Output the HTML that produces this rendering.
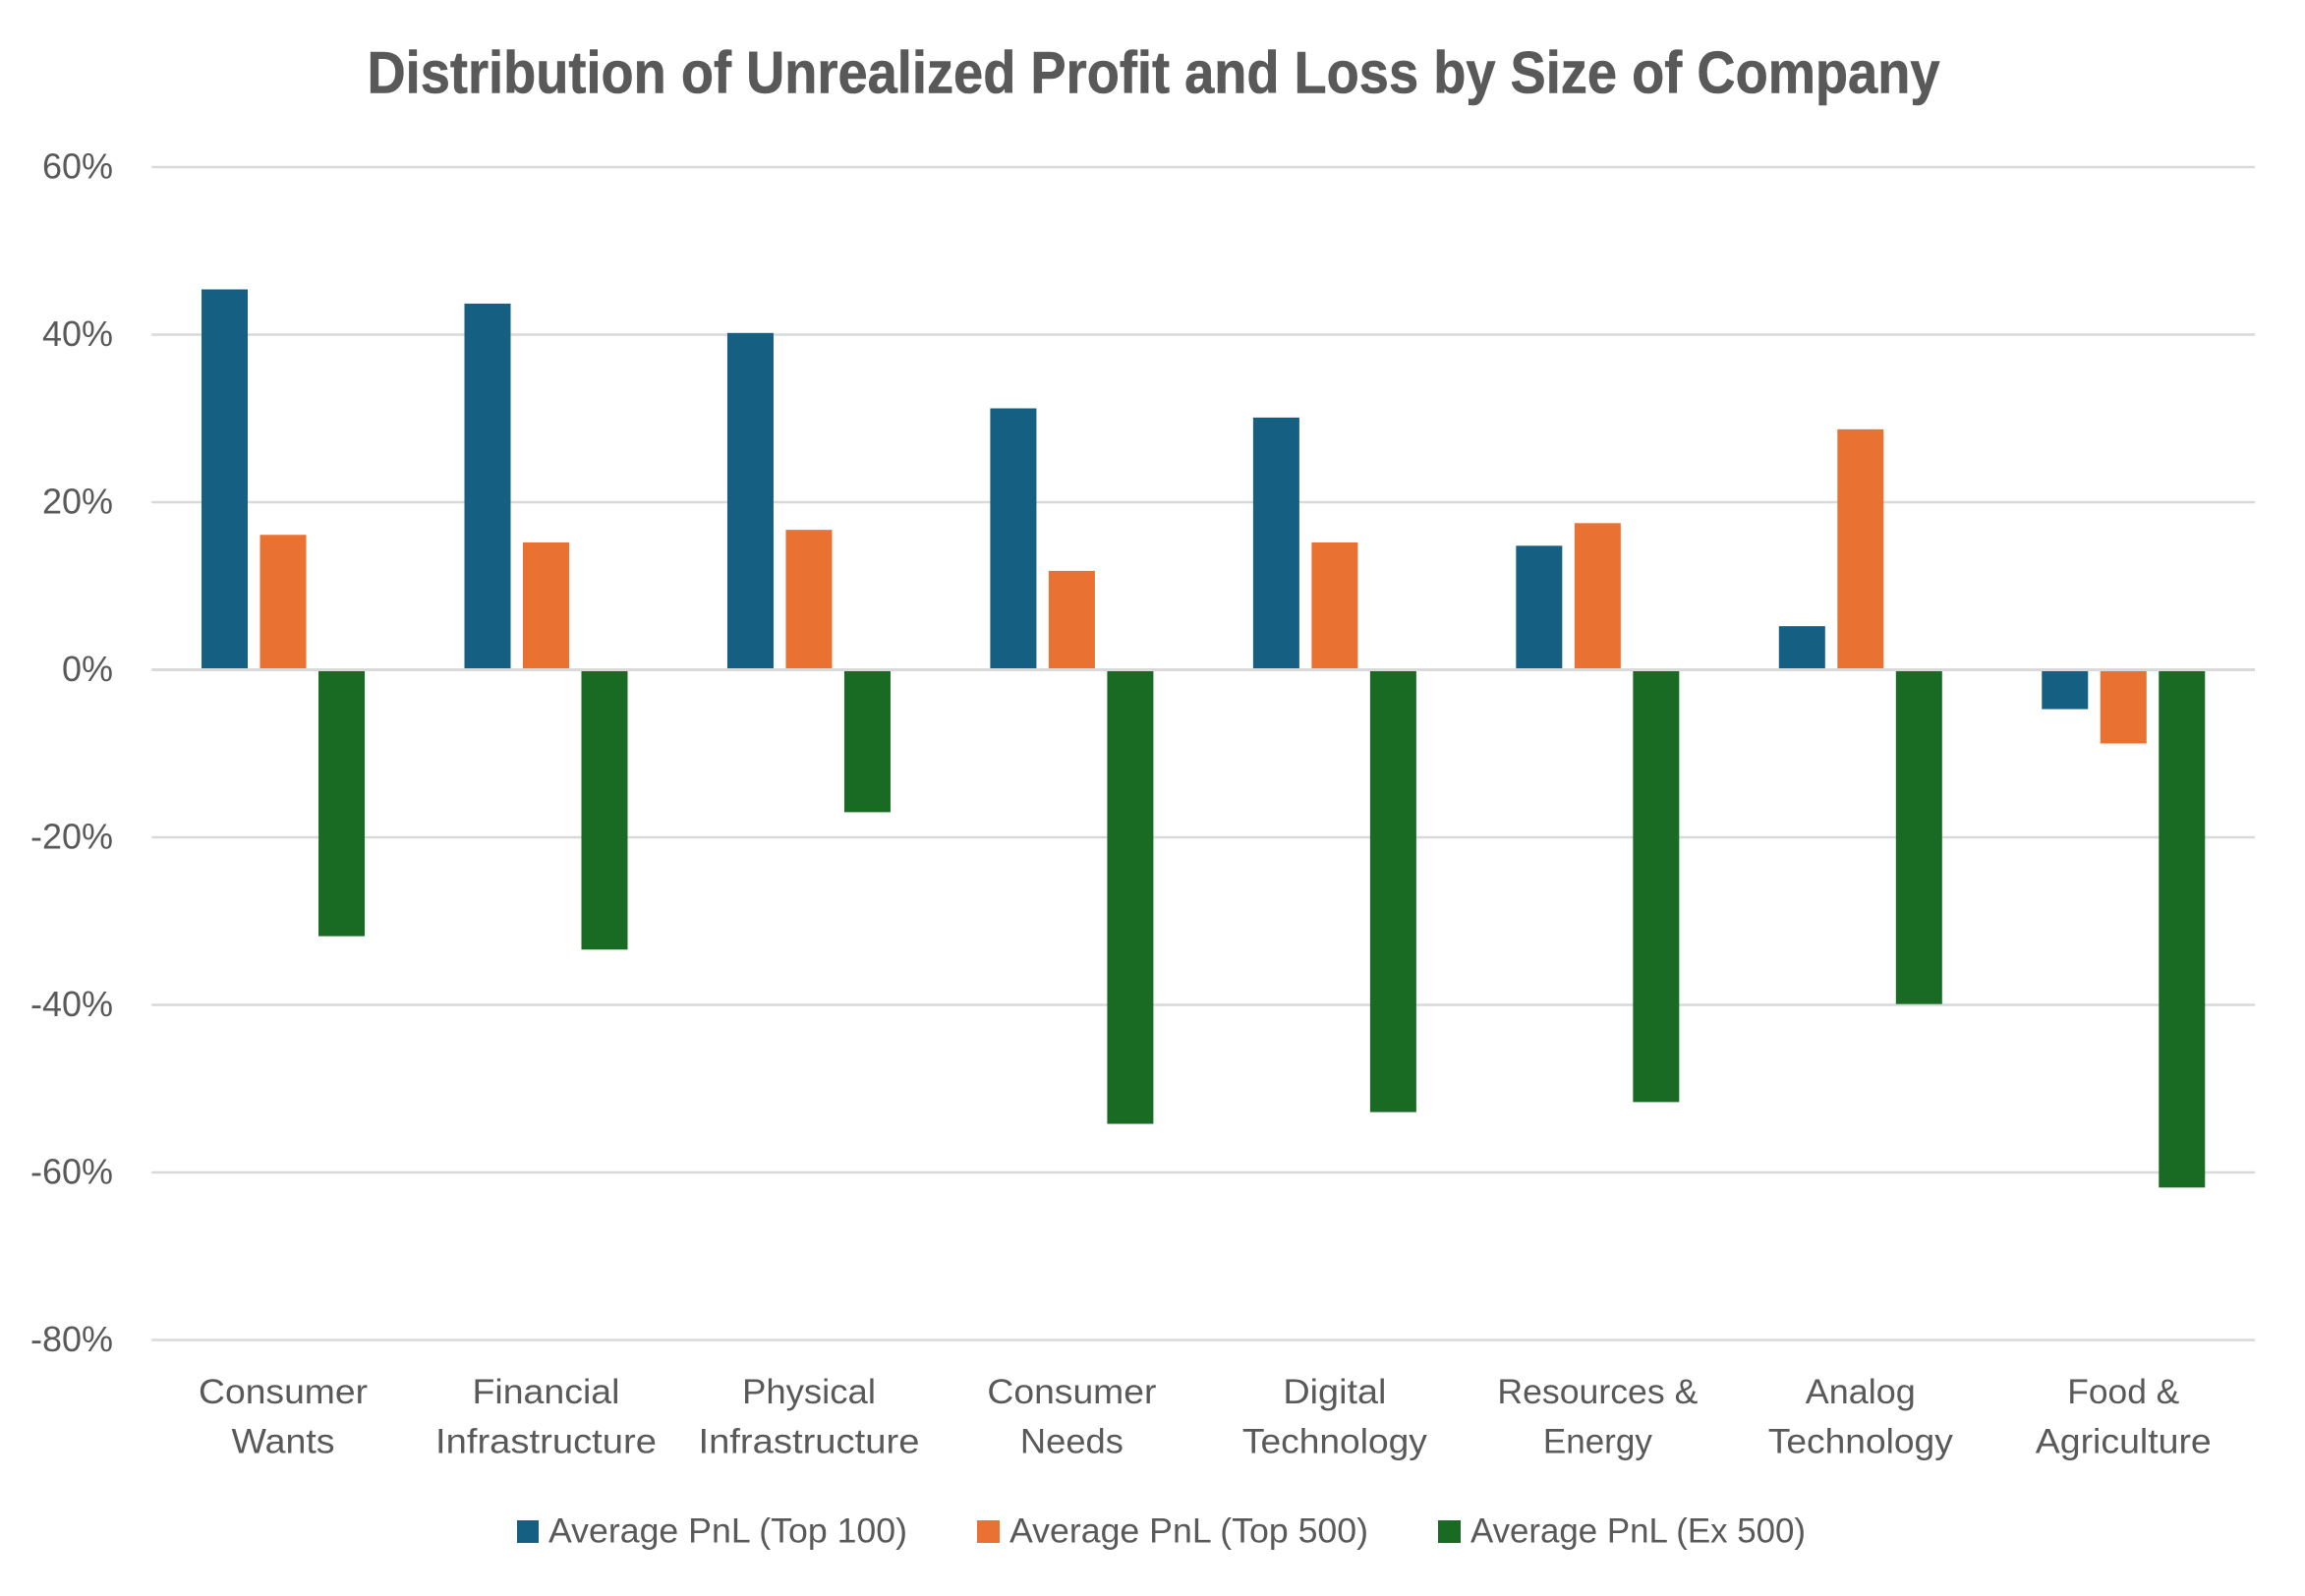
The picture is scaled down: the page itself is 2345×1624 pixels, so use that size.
<!DOCTYPE html>
<html lang="en">
<head>
<meta charset="utf-8">
<title>Distribution of Unrealized Profit and Loss by Size of Company</title>
<style>
  html, body { margin: 0; padding: 0; background: #fff; }
  svg { display: block; }
  text { font-family: "Liberation Sans", sans-serif; fill: #595959; }
</style>
</head>
<body>
<svg id="chart" xmlns="http://www.w3.org/2000/svg" width="2345" height="1624" viewBox="0 0 2345 1624">
  <rect x="0" y="0" width="2345" height="1624" fill="#ffffff"/>
  <text x="373.5" y="94.7" font-size="60" font-weight="700" stroke="#595959" stroke-width="0.6" textLength="1600" lengthAdjust="spacingAndGlyphs">Distribution of Unrealized Profit and Loss by Size of Company</text>
  <g id="gridlines"></g>
  <g id="y-axis-labels"></g>
  <g id="bars"></g>
  <g id="zero-axis"></g>
  <g id="x-axis-labels"></g>
  <g>
    <g>
      <rect x="526" y="1547" width="22" height="23" fill="#156082"/>
      <text x="558" y="1569.3" font-size="35" textLength="365" lengthAdjust="spacingAndGlyphs">Average PnL (Top 100)</text>
    </g>
    <g>
      <rect x="994" y="1547" width="23" height="23" fill="#E97132"/>
      <text x="1027" y="1569.3" font-size="35" textLength="365" lengthAdjust="spacingAndGlyphs">Average PnL (Top 500)</text>
    </g>
    <g>
      <rect x="1463" y="1547" width="23" height="23" fill="#196B24"/>
      <text x="1496" y="1569.3" font-size="35" textLength="341" lengthAdjust="spacingAndGlyphs">Average PnL (Ex 500)</text>
    </g>
  </g>
</svg>
<script>
const categories = [
  ["Consumer", "Wants"],
  ["Financial", "Infrastructure"],
  ["Physical", "Infrastructure"],
  ["Consumer", "Needs"],
  ["Digital", "Technology"],
  ["Resources &", "Energy"],
  ["Analog", "Technology"],
  ["Food &", "Agriculture"]
];
const avgPnlTop100 = [45.4, 43.7, 40.2, 31.2, 30.1, 14.8, 5.2, -4.7];
const avgPnlTop500 = [16.1, 15.2, 16.7, 11.8, 15.2, 17.5, 28.7, -8.8];
const avgPnlEx500 = [-31.8, -33.4, -17.0, -54.2, -52.8, -51.6, -39.9, -61.8];
const yTicks = [60, 40, 20, 0, -20, -40, -60, -80];

const SVG_NS = "http://www.w3.org/2000/svg";
const plotLeft = 154.3, plotRight = 2294;
const yZero = 681.5, pxPerPercent = 8.525;
const barWidth = 47, barStep = 59.5;
const bandWidth = (plotRight - plotLeft) / categories.length;

/* The reference font sets these words wider than Liberation Sans does. */
const wordFit = {
  "Consumer": 172, "Wants": 105, "Financial": 150, "Infrastructure": 225,
  "Physical": 136, "Needs": 105, "Digital": 105, "Technology": 188,
  "Resources &": 204, "Energy": 111, "Analog": 112, "Food &": 114, "Agriculture": 179
};

function yScale(v) { return yZero - v * pxPerPercent; }
function xCenter(i) { return plotLeft + bandWidth * (i + 0.5); }

function make(tag, attrs) {
  const el = document.createElementNS(SVG_NS, tag);
  for (const k in attrs) el.setAttribute(k, attrs[k]);
  return el;
}

const gridGroup = document.getElementById("gridlines");
const labelGroup = document.getElementById("y-axis-labels");
const zeroGroup = document.getElementById("zero-axis");
yTicks.forEach(function (t) {
  const line = make("line", { x1: plotLeft, x2: plotRight, y1: yScale(t), y2: yScale(t), stroke: "#D9D9D9", "stroke-width": t === 0 ? 3 : 2.6 });
  
  
  (t === 0 ? zeroGroup : gridGroup).appendChild(line);

  const label = make("text", { x: 115, y: yScale(t) + 11.5, "font-size": 36, "text-anchor": "end" });
  
  
  label.textContent = t + "%";
  labelGroup.appendChild(label);
});

const barGroup = document.getElementById("bars");
function drawSeries(values, offsetIndex, color, seriesName) {
  values.forEach(function (v, i) {
    const top = Math.min(yScale(v), yZero);
    const bottom = Math.max(yScale(v), yZero);
    const bar = make("rect", {
      x: xCenter(i) + offsetIndex * barStep - barWidth / 2,
      y: top,
      width: barWidth,
      height: bottom - top,
      fill: color
    });
    
    
    barGroup.appendChild(bar);
  });
}
drawSeries(avgPnlTop100, -1, "#156082", "top-100");
drawSeries(avgPnlTop500, 0, "#E97132", "top-500");
drawSeries(avgPnlEx500, 1, "#196B24", "ex-500");

const catGroup = document.getElementById("x-axis-labels");
categories.forEach(function (lines, i) {
  lines.forEach(function (line, n) {
    const label = make("text", {
      x: xCenter(i),
      y: 1428 + n * 50.3,
      "font-size": 35.6,
      "text-anchor": "middle",
      textLength: wordFit[line],
      lengthAdjust: "spacingAndGlyphs"
    });
    
    
    label.textContent = line;
    catGroup.appendChild(label);
  });
});
</script>
</body>
</html>
